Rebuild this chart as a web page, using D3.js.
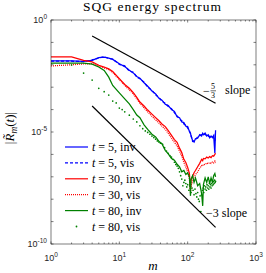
<!DOCTYPE html>
<html>
<head>
<meta charset="utf-8">
<script src="https://cdn.jsdelivr.net/npm/d3@7"></script>
<style>
body { margin: 0; background: #fff; }
.serif { font-family: "Liberation Serif", "DejaVu Serif", serif; }
.tick { font-family: "Liberation Sans", Arial, sans-serif; fill: #262626; }
</style>
</head>
<body>
<svg id="chart"></svg>
<script>
// wavenumbers where the lines are sampled
var mGrid = [1,2,3,4,5,6,7,8,10,12,14,16,18,20,23,26,30,34,38,42,47,52,58,64,70,76,82,88,94,100,
    106,110,112,118,124,130,140,150,160,166,170,180,190,200,210,220,230,240,250,256]

// log10 of |R_m(t)|
var blueInv = [-1.83,-1.83,-1.85,-1.80,-1.68,-1.66,-1.70,-1.76,-1.95,-2.08,-2.24,-2.36,-2.52,-2.60,-2.80,-2.96,-3.17,-3.30,-3.50,-3.58,
    -3.76,-3.82,-4.00,-4.08,-4.32,-4.36,-4.55,-4.58,-4.74,-4.76,-4.98,-5.05,-5.18,-5.38,-5.45,-5.30,-5.28,-5.12,-5.18,-5.06,
    -5.12,-5.05,-5.18,-5.12,-5.26,-5.18,-5.25,-5.16,-5.95,-4.92]
var blueVis = [-1.84,-1.84,-1.86,-1.78,-1.70,-1.64,-1.72,-1.74,-1.98,-2.05,-2.28,-2.33,-2.55,-2.62,-2.78,-3.00,-3.14,-3.34,-3.46,-3.62,
    -3.72,-3.86,-3.96,-4.14,-4.28,-4.42,-4.50,-4.64,-4.70,-4.82,-4.94,-5.10,-5.14,-5.42,-5.40,-5.34,-5.22,-5.16,-5.12,-5.10,
    -5.08,-5.12,-5.14,-5.20,-5.20,-5.24,-5.20,-5.22,-5.40,-5.00]
var redInv = [-1.65,-1.65,-1.80,-1.87,-2.02,-2.10,-2.18,-2.30,-2.62,-2.88,-3.05,-3.24,-3.45,-3.66,-3.84,-4.02,-4.20,-4.36,-4.50,-4.64,
    -4.76,-4.94,-5.15,-5.34,-5.46,-5.72,-5.92,-6.22,-6.36,-6.58,-6.85,-7.55,-7.15,-6.98,-6.82,-6.72,-6.55,-6.40,-6.22,-6.28,
    -6.18,-6.20,-6.12,-6.16,-6.10,-6.14,-6.06,-6.08,-6.00,-5.95]
var redVis = [-2.05,-2.00,-1.96,-1.95,-2.06,-2.14,-2.22,-2.34,-2.66,-2.92,-3.12,-3.30,-3.52,-3.72,-3.92,-4.10,-4.30,-4.46,-4.60,-4.74,
    -4.88,-5.06,-5.28,-5.46,-5.62,-5.86,-6.08,-6.36,-6.56,-6.80,-7.10,-7.70,-7.40,-7.20,-7.00,-6.90,-6.78,-6.62,-6.50,-6.52,
    -6.44,-6.46,-6.38,-6.42,-6.36,-6.40,-6.34,-6.38,-6.30,-6.38]
var greenInv = [-1.92,-1.92,-1.93,-1.97,-2.10,-2.25,-2.55,-2.92,-3.25,-3.52,-3.74,-4.00,-4.24,-4.36,-4.68,-4.88,-5.10,-5.22,-5.42,-5.52,
    -5.82,-5.98,-6.18,-6.26,-6.44,-6.56,-6.78,-6.72,-6.90,-6.82,-7.00,-7.85,-7.10,-6.95,-7.25,-7.05,-7.40,-7.30,-7.75,-8.30,
    -7.35,-7.05,-7.25,-7.00,-7.30,-7.05,-7.25,-6.95,-6.85,-7.00]

// t = 80 vis is plotted point by point
var mDots = [1,2,3,4,5,6,7,8,9,10,11,12,14,16,18,20,22,24,26,28,30,32,34,36,38,40,43,46,49,52,55,58,61,64,67,70,73,76,79,82,
    85,88,91,94,97,100,104,108,112,116,120,124,128,132,136,140,144,148,152,156,160,164,168,172,176,180,184,188,192,196,
    200,204,208,212,216,220,224,228,232,236,240,244,248,252,256]
var greenVis = [-1.95,-2.01,-2.37,-2.68,-3.05,-3.20,-3.35,-3.62,-3.70,-3.93,-4.00,-4.10,-4.25,-4.42,-4.55,-4.72,-4.85,-4.95,-5.02,-5.10,
    -5.18,-5.25,-5.32,-5.40,-5.45,-5.50,-5.55,-5.70,-5.85,-5.95,-6.05,-6.12,-6.22,-6.35,-6.45,-6.52,-6.62,-6.78,-6.95,-7.10,
    -7.40,-7.25,-7.15,-7.30,-7.45,-7.35,-7.60,-7.40,-7.70,-7.50,-7.60,-7.80,-7.55,-7.75,-7.90,-7.70,-8.00,-8.10,-7.85,-8.55,
    -7.80,-7.60,-7.50,-7.70,-7.40,-7.55,-7.45,-7.60,-7.35,-7.50,-7.40,-7.55,-7.30,-7.45,-7.35,-7.50,-7.30,-7.40,-7.25,-7.35,
    -7.20,-7.30,-7.15,-7.25,-7.20]

// reference slopes
var refM = [4, 256]
var slope53 = [-0.71, -3.72]
var slope3 = [-3.84, -9.26]

var legendLabels = [["5","inv"],["5","vis"],["30","inv"],["30","vis"],["80","inv"],["80","vis"]]
var colors = ["#0000ff","#0000ff","#ff0000","#ff0000","#008000","#008000"]

var xTicksMajor = [1,10,100,1000]
var yTicksMajor = [1e-10,1e-9,1e-8,1e-7,1e-6,1e-5,1e-4,1e-3,1e-2,1e-1,1]
var yTickLabels = [[1,"0"],[1e-5,"-5"],[1e-10,"-10"]]

var screen = {width:266, height:273}
var margins = {left:51, top:20, right:10, bottom:29}
var graph = {width:screen.width-margins.left-margins.right, height:screen.height-margins.top-margins.bottom}

var svg = d3.select("#chart")
    .attr("width",screen.width)
    .attr("height",screen.height)

var xScale = d3.scaleLog().domain([1,1000]).range([margins.left, margins.left+graph.width])
var yScale = d3.scaleLog().domain([1e-10,1]).range([margins.top+graph.height, margins.top])

var toPoints = function(ms, logs)
{
    return ms.map(function(m,i){ return {m:m, v:Math.pow(10,logs[i])} })
}

var drawLines = function()
{
    svg.append("clipPath").attr("id","clip")
        .append("rect")
        .attr("x",margins.left).attr("y",margins.top)
        .attr("width",graph.width).attr("height",graph.height)

    var plot = svg.append("g").attr("clip-path","url(#clip)")
    var line = d3.line()
        .x(function(d){ return xScale(d.m) })
        .y(function(d){ return yScale(d.v) })

    var series = [
        {data:blueInv, color:colors[0], dash:null},
        {data:blueVis, color:colors[1], dash:"3,2"},
        {data:redInv, color:colors[2], dash:null},
        {data:redVis, color:colors[3], dash:"1,1"},
        {data:greenInv, color:colors[4], dash:null}
    ]
    series.forEach(function(s)
    {
        plot.append("path")
            .datum(toPoints(mGrid, s.data))
            .attr("d",line)
            .attr("fill","none")
            .attr("stroke",s.color)
            .attr("stroke-width",1.25)
            .attr("stroke-dasharray",s.dash)
    })

    plot.selectAll("circle.dot")
        .data(toPoints(mDots, greenVis))
        .enter()
        .append("circle")
        .attr("class","dot")
        .attr("cx",function(d){ return xScale(d.m) })
        .attr("cy",function(d){ return yScale(d.v) })
        .attr("r",0.85)
        .attr("fill",colors[5])

    // slope guides
    ;[slope53, slope3].forEach(function(s)
    {
        plot.append("path")
            .datum(toPoints(refM, s))
            .attr("d",line)
            .attr("fill","none")
            .attr("stroke","#000")
            .attr("stroke-width",1.2)
    })
}

var drawAxes = function()
{
    var axisColor = "#262626"
    var axes = svg.append("g")
    var x0 = margins.left, x1 = margins.left+graph.width
    var y0 = margins.top+graph.height, y1 = margins.top

    axes.append("rect")
        .attr("x",x0).attr("y",y1)
        .attr("width",graph.width).attr("height",graph.height)
        .attr("fill","none").attr("stroke",axisColor).attr("stroke-width",0.6)

    var xMinor = xScale.ticks().filter(function(t){ return xTicksMajor.indexOf(t) < 0 })
    var addTicks = function(ticks, len, horizontal)
    {
        ticks.forEach(function(t)
        {
            if (horizontal)
            {
                var px = xScale(t)
                axes.append("line").attr("x1",px).attr("x2",px).attr("y1",y0).attr("y2",y0-len)
                    .attr("stroke",axisColor).attr("stroke-width",0.6)
                axes.append("line").attr("x1",px).attr("x2",px).attr("y1",y1).attr("y2",y1+len)
                    .attr("stroke",axisColor).attr("stroke-width",0.6)
            }
            else
            {
                var py = yScale(t)
                axes.append("line").attr("x1",x0).attr("x2",x0+len).attr("y1",py).attr("y2",py)
                    .attr("stroke",axisColor).attr("stroke-width",0.6)
                axes.append("line").attr("x1",x1).attr("x2",x1-len).attr("y1",py).attr("y2",py)
                    .attr("stroke",axisColor).attr("stroke-width",0.6)
            }
        })
    }
    addTicks(xTicksMajor, 2.5, true)
    addTicks(xMinor, 1.5, true)
    addTicks(yTicksMajor, 2.5, false)

    // x tick labels 10^k
    xTicksMajor.forEach(function(t)
    {
        var lbl = axes.append("text").attr("class","tick")
            .attr("x",xScale(t)).attr("y",y0+17)
            .attr("text-anchor","middle")
            .style("font-size","9px")
        lbl.append("tspan").text("10")
        lbl.append("tspan").text(String(Math.round(Math.log10(t))))
            .attr("dy",-4).style("font-size","6.5px")
    })
    // y tick labels
    yTickLabels.forEach(function(d)
    {
        var lbl = axes.append("text").attr("class","tick")
            .attr("x",x0-4).attr("y",yScale(d[0])+3)
            .attr("text-anchor","end")
            .style("font-size","9px")
        lbl.append("tspan").text("10")
        lbl.append("tspan").text(d[1])
            .attr("dy",-4).style("font-size","6.5px")
    })
}

var drawLabels = function()
{
    var labels = svg.append("g").attr("class","serif").style("fill","#000")

    //title
    labels.append("text")
        .text("SQG energy spectrum")
        .attr("x",152).attr("y",11)
        .attr("text-anchor","middle")
        .attr("textLength",138)
        .style("font-size","13.5px")

    //x-axis
    labels.append("text")
        .text("m")
        .attr("x",153).attr("y",270)
        .attr("text-anchor","middle")
        .style("font-style","italic")
        .style("font-size","13px")

    //y-axis
    var yl = labels.append("g")
        .attr("transform","translate(14,128)")
        .append("text")
        .attr("text-anchor","middle")
        .attr("transform","rotate(270)")
        .style("font-size","13px")
    yl.append("tspan").text("|")
    yl.append("tspan").text("R\u0303").style("font-style","italic")
    yl.append("tspan").text("m").style("font-style","italic").style("font-size","9.5px").attr("dy",3)
    yl.append("tspan").text("(").attr("dy",-3)
    yl.append("tspan").text("t").style("font-style","italic")
    yl.append("tspan").text(")|")

    // -5/3 slope
    var s1 = labels.append("g")
    s1.append("text").text("\u2212").attr("x",203).attr("y",94.5).style("font-size","12px")
    s1.append("text").text("5").attr("x",211).attr("y",89).style("font-size","8px")
    s1.append("line").attr("x1",210.5).attr("x2",216).attr("y1",90.8).attr("y2",90.8)
        .attr("stroke","#000").attr("stroke-width",0.6)
    s1.append("text").text("3").attr("x",211).attr("y",97.5).style("font-size","8px")
    s1.append("text").text("slope").attr("x",225).attr("y",93.5).style("font-size","12px")

    // -3 slope
    labels.append("text")
        .text("\u22123 slope")
        .attr("x",206).attr("y",217)
        .style("font-size","12px")
}

var drawLegend = function()
{
    var legend = svg.append("g").attr("class","serif")
    var rowY = function(i){ return 147 + i*15.9 }
    var dashes = [null,"3,2",null,"1,1",null]

    legendLabels.forEach(function(d,i)
    {
        if (i < 5)
        {
            legend.append("line")
                .attr("x1",65).attr("x2",88)
                .attr("y1",rowY(i)).attr("y2",rowY(i))
                .attr("stroke",colors[i])
                .attr("stroke-width",1.2)
                .attr("stroke-dasharray",dashes[i])
        }
        else
        {
            legend.append("circle")
                .attr("cx",76.5).attr("cy",rowY(i)).attr("r",0.9)
                .attr("fill",colors[i])
        }
        var txt = legend.append("text")
            .attr("x",92).attr("y",rowY(i)+4)
            .style("font-size","12px")
        txt.append("tspan").text("t").style("font-style","italic")
        txt.append("tspan").text(" = " + d[0] + ", " + d[1])
    })
}

drawLines()
drawAxes()
drawLabels()
drawLegend()
</script>
</body>
</html>
